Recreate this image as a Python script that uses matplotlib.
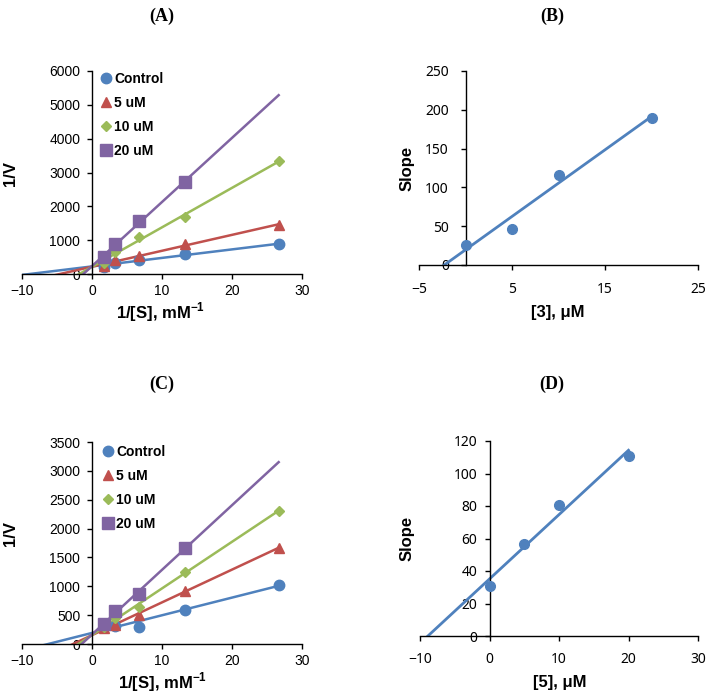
import numpy as np
import matplotlib
matplotlib.use("Agg")
import matplotlib.pyplot as plt

W, H = 709, 698

plt.rcParams['font.family'] = ['Liberation Sans', 'DejaVu Sans']
plt.rcParams['mathtext.fontset'] = 'custom'
plt.rcParams['mathtext.bf'] = 'Liberation Sans:bold'
plt.rcParams['mathtext.rm'] = 'Liberation Sans'

# Lineweaver-Burk data (1/[S] in mM^-1)
inv_s = [1.667, 3.333, 6.667, 13.333, 26.667]
series_names = ['Control', '5 uM', '10 uM', '20 uM']

# panel A
control_a = [220, 330, 410, 580, 880]
uM5_a = [230, 400, 540, 900, 1440]
uM10_a = [330, 640, 1100, 1680, 3340]
uM20_a = [500, 880, 1560, 2730]

# panel C
control_c = [300, 320, 300, 590, 1030]
uM5_c = [280, 330, 500, 920, 1670]
uM10_c = [300, 450, 640, 1250, 2310]
uM20_c = [340, 580, 870, 1670]

# secondary plots: slope vs inhibitor concentration
conc_b = [0, 5, 10, 20]
slope_b = [26, 47, 116, 190]
conc_d = [0, 5, 10, 20]
slope_d = [31, 56.5, 80.5, 111]

COLORS = ['#4F81BD', '#C0504D', '#9BBB59', '#8064A2']
MARKERS = ['o', '^', 'D', 's']
MSIZES = [7.5, 7.5, 5.5, 8]


def px_rect(l, r, t, b):
    return [l / W, 1 - b / H, (r - l) / W, (b - t) / H]


def style_axes(ax, xlim, ylim, xticks, yticks, tick_font, size, xpad, ypad):
    ax.set_xlim(*xlim)
    ax.set_ylim(*ylim)
    ax.set_xticks(xticks)
    ax.set_yticks(yticks)
    ax.spines['left'].set_position(('data', 0))
    ax.spines['bottom'].set_position(('data', 0))
    ax.spines['top'].set_visible(False)
    ax.spines['right'].set_visible(False)
    for s in ('left', 'bottom'):
        ax.spines[s].set_color('black')
        ax.spines[s].set_linewidth(1)
    ax.tick_params(direction='out', length=3.5, width=1, color='black', labelsize=size)
    ax.tick_params(axis='x', pad=xpad)
    ax.tick_params(axis='y', pad=ypad)
    for lab in ax.get_xticklabels() + ax.get_yticklabels():
        lab.set_fontfamily(tick_font)
    ax.patch.set_alpha(0)


def trend(ax, x, y, color, x_end, lw=1.8):
    k, b = np.polyfit(x, y, 1)
    xs = np.array([ax.get_xlim()[0], x_end])
    ax.plot(xs, k * xs + b, color=color, lw=lw, zorder=2)


def lb_panel(rect, data, ylim, yticks, legend_anchor):
    ax = fig.add_axes(rect)
    style_axes(ax, (-10, 30), ylim, [-10, 0, 10, 20, 30], yticks, 'Liberation Sans',
               10, 3.5, 5)
    handles = []
    for i, y in enumerate(data):
        x = inv_s[:len(y)]
        trend(ax, x, y, COLORS[i], inv_s[-1])
        h, = ax.plot(x, y, linestyle='none', marker=MARKERS[i], ms=MSIZES[i],
                     color=COLORS[i], mec=COLORS[i], zorder=3, clip_on=False)
        handles.append(h)
    ax.legend(handles, series_names, loc='upper left', bbox_to_anchor=legend_anchor,
              frameon=False, handlelength=0.8, handletextpad=0.2, labelspacing=0.72,
              borderpad=0, borderaxespad=0, prop={'weight': 'bold', 'size': 10})
    return ax


def slope_panel(rect, x, y, xlim, ylim, xticks, yticks, xpad, ypad):
    ax = fig.add_axes(rect)
    style_axes(ax, xlim, ylim, xticks, yticks, 'Noto Sans', 10, xpad, ypad)
    trend(ax, x, y, COLORS[0], x[-1], lw=2)
    ax.plot(x, y, linestyle='none', marker='o', ms=7, color=COLORS[0], zorder=3,
            clip_on=False)
    return ax


fig = plt.figure(figsize=(W / 100, H / 100), dpi=100)

lb_panel(px_rect(22, 302, 71, 274), [control_a, uM5_a, uM10_a, uM20_a],
         (0, 6000), range(0, 6001, 1000), (0.28, 0.995))
slope_panel(px_rect(419, 698, 71, 265), conc_b, slope_b, (-5, 25), (0, 250),
            [-5, 5, 15, 25], range(0, 251, 50), 8.5, 8.5)
lb_panel(px_rect(22, 302, 442, 644), [control_c, uM5_c, uM10_c, uM20_c],
         (0, 3500), range(0, 3501, 500), (0.286, 0.985))
slope_panel(px_rect(420, 698, 441, 636), conc_d, slope_d, (-10, 30), (0, 120),
            [-10, 0, 10, 20, 30], range(0, 121, 20), 8, 5.5)


# titles and axis labels (positions in pixels)
def ftext(x, y, s, **kw):
    fig.text(x / W, 1 - y / H, s, ha='center', va='center', **kw)


title_kw = dict(fontsize=13, fontweight='bold', family='Liberation Serif')
ftext(162, 16, '(A)', **title_kw)
ftext(552, 16, '(B)', **title_kw)
ftext(162, 384, '(C)', **title_kw)
ftext(552, 384, '(D)', **title_kw)

lab_kw = dict(fontsize=12, fontweight='bold')
ftext(160, 312, r'1/[S], mM$^{\mathbf{-1}}$', **lab_kw)
ftext(558, 312, '[3], μM', **lab_kw)
ftext(162, 682, r'1/[S], mM$^{\mathbf{-1}}$', **lab_kw)
ftext(560, 683, '[5], μM', **lab_kw)
ftext(11, 173, '1/V', rotation=90, **lab_kw)
ftext(407, 168, 'Slope', rotation=90, **lab_kw)
ftext(11, 533, '1/V', rotation=90, **lab_kw)
ftext(407, 538, 'Slope', rotation=90, **lab_kw)

fig.savefig('out.png', dpi=100)
